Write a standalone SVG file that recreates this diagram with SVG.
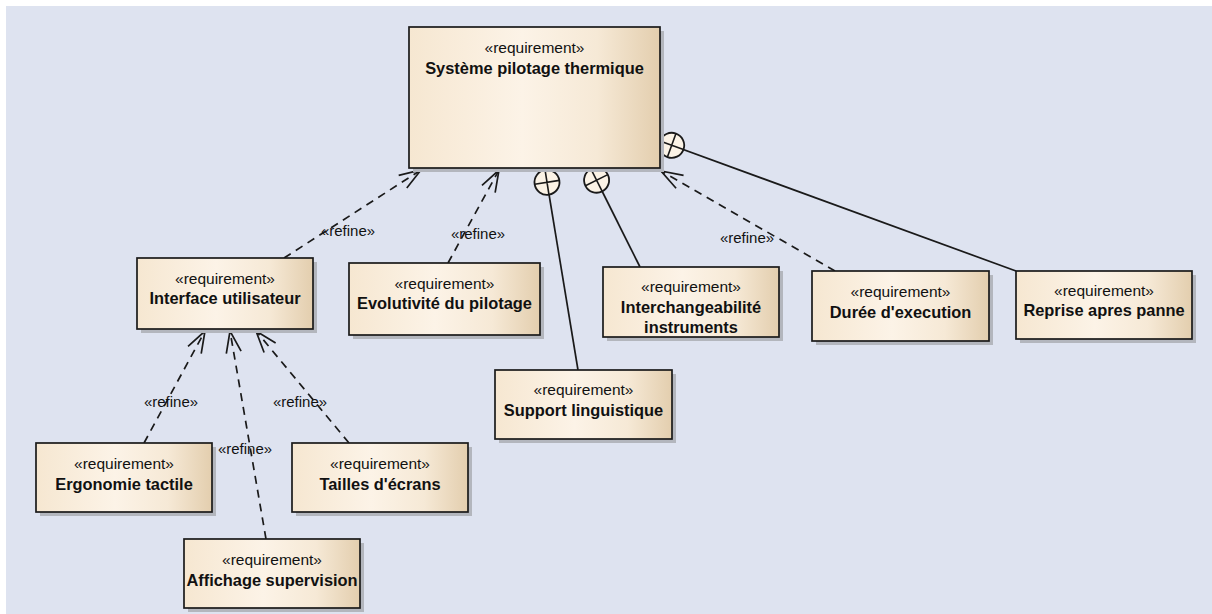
<svg xmlns="http://www.w3.org/2000/svg" xmlns:xlink="http://www.w3.org/1999/xlink" width="1212" height="614" viewBox="0 0 1212 614">
<style>
.st{font-family:"Liberation Sans",Arial,sans-serif;font-size:15.5px;fill:#111;text-anchor:middle}
.nm{font-family:"Liberation Sans",Arial,sans-serif;font-size:16.4px;font-weight:bold;fill:#111;text-anchor:middle}
.lbl{font-family:"Liberation Sans",Arial,sans-serif;font-size:15px;fill:#111;text-anchor:middle}
.box{fill:url(#g);stroke:#1a1a1a;stroke-width:1.7}
.sh{fill:#b3b6bd}
.dash{fill:none;stroke:#1a1a1a;stroke-width:1.7;stroke-dasharray:8 6;marker-end:url(#open)}
.solid{fill:none;stroke:#1a1a1a;stroke-width:1.7}
</style>
<defs>
<linearGradient id="g" x1="0" y1="0" x2="1" y2="0">
<stop offset="0" stop-color="#f6e7d1"/>
<stop offset="0.45" stop-color="#fcf3e7"/>
<stop offset="0.75" stop-color="#f6e9d6"/>
<stop offset="1" stop-color="#e3ceae"/>
</linearGradient>
<marker id="open" markerUnits="userSpaceOnUse" viewBox="-24 -10 26 20" refX="0" refY="0" markerWidth="26" markerHeight="20" orient="auto">
<path d="M-21.7,-7.5 L0,0 L-21.7,7.5" fill="none" stroke="#1a1a1a" stroke-width="1.7"/>
</marker>
<g id="cp">
<circle r="12.5" fill="#fbf3e6" stroke="#1a1a1a" stroke-width="1.8"/>
<path d="M-12.5,0 L12.5,0 M0,-12.5 L0,12.5" stroke="#1a1a1a" stroke-width="1.6"/>
</g>
</defs>
<rect x="0" y="0" width="1212" height="614" fill="#ffffff"/>
<rect x="6" y="6" width="1206" height="608" fill="#dee3f0"/>

<g id="connectors">
<path class="dash" d="M284,258 L421,170"/>
<path class="dash" d="M448,263 L499,170"/>
<path class="dash" d="M835,271 L661,171"/>
<path class="dash" d="M144,443 L205,331"/>
<path class="dash" d="M266,539 L230,331"/>
<path class="dash" d="M349,443 L256,331"/>
<path class="solid" d="M578,370 L545,170"/>
<path class="solid" d="M640,267 L591,169"/>
<path class="solid" d="M1016,271 L660,141"/>
<use xlink:href="#cp" href="#cp" transform="translate(547,182.3) rotate(81)"/>
<use xlink:href="#cp" href="#cp" transform="translate(596.6,180.2) rotate(63.4)"/>
<use xlink:href="#cp" href="#cp" transform="translate(671.7,145.3) rotate(20)"/>
<text class="lbl" x="348" y="236">«refine»</text>
<text class="lbl" x="478" y="239">«refine»</text>
<text class="lbl" x="747" y="243">«refine»</text>
<text class="lbl" x="171" y="407">«refine»</text>
<text class="lbl" x="245" y="454">«refine»</text>
<text class="lbl" x="300" y="407">«refine»</text>
</g>

<g id="n-systeme">
<rect class="sh" x="413" y="31" width="251" height="141"/>
<rect class="box" x="409" y="27" width="251" height="141"/>
<text class="st" x="534.5" y="53">«requirement»</text>
<text class="nm" x="534.5" y="74">Système pilotage thermique</text>
</g>

<g id="n-interface">
<rect class="sh" x="141" y="262" width="176" height="71"/>
<rect class="box" x="137" y="258" width="176" height="71"/>
<text class="st" x="225" y="284">«requirement»</text>
<text class="nm" x="225" y="304">Interface utilisateur</text>
</g>

<g id="n-evolutivite">
<rect class="sh" x="353" y="267" width="191" height="72"/>
<rect class="box" x="349" y="263" width="191" height="72"/>
<text class="st" x="444.5" y="289">«requirement»</text>
<text class="nm" x="444.5" y="309">Evolutivité du pilotage</text>
</g>

<g id="n-interchangeabilite">
<rect class="sh" x="607" y="271" width="176" height="70"/>
<rect class="box" x="603" y="267" width="176" height="70"/>
<text class="st" x="691" y="292">«requirement»</text>
<text class="nm" x="691" y="313">Interchangeabilité</text>
<text class="nm" x="691" y="333">instruments</text>
</g>

<g id="n-duree">
<rect class="sh" x="816" y="275" width="177" height="70"/>
<rect class="box" x="812" y="271" width="177" height="70"/>
<text class="st" x="900.5" y="297">«requirement»</text>
<text class="nm" x="900.5" y="318">Durée d'execution</text>
</g>

<g id="n-reprise">
<rect class="sh" x="1020" y="275" width="176" height="68"/>
<rect class="box" x="1016" y="271" width="176" height="68"/>
<text class="st" x="1104" y="296">«requirement»</text>
<text class="nm" x="1104" y="316">Reprise apres panne</text>
</g>

<g id="n-support">
<rect class="sh" x="499" y="374" width="177" height="69"/>
<rect class="box" x="495" y="370" width="177" height="69"/>
<text class="st" x="583.5" y="395">«requirement»</text>
<text class="nm" x="583.5" y="416">Support linguistique</text>
</g>

<g id="n-ergonomie">
<rect class="sh" x="40" y="447" width="176" height="69"/>
<rect class="box" x="36" y="443" width="176" height="69"/>
<text class="st" x="124" y="469">«requirement»</text>
<text class="nm" x="124" y="490">Ergonomie tactile</text>
</g>

<g id="n-tailles">
<rect class="sh" x="296" y="447" width="176" height="69"/>
<rect class="box" x="292" y="443" width="176" height="69"/>
<text class="st" x="380" y="469">«requirement»</text>
<text class="nm" x="380" y="490">Tailles d'écrans</text>
</g>

<g id="n-affichage">
<rect class="sh" x="188" y="543" width="176" height="69"/>
<rect class="box" x="184" y="539" width="176" height="69"/>
<text class="st" x="272" y="565">«requirement»</text>
<text class="nm" x="272" y="586">Affichage supervision</text>
</g>
</svg>
